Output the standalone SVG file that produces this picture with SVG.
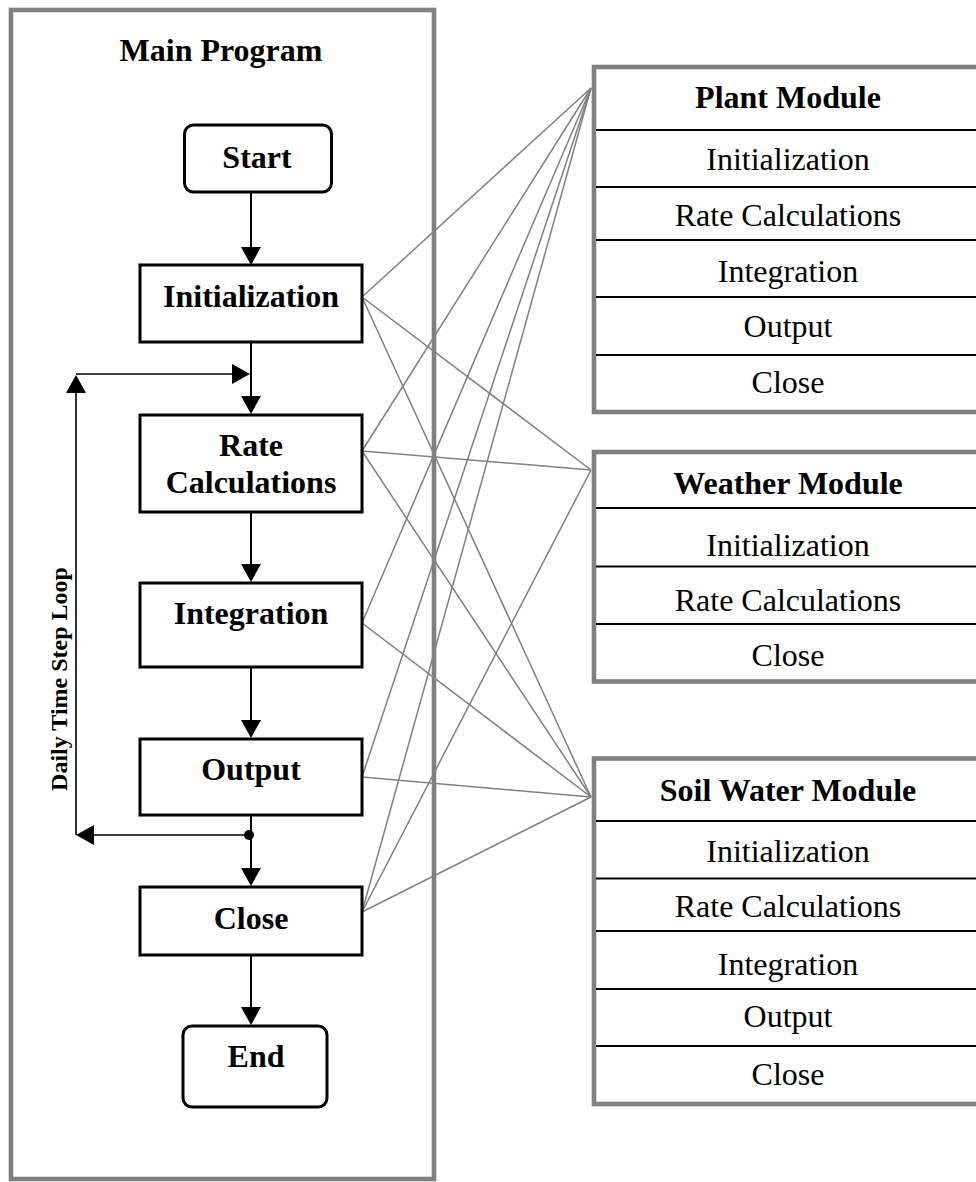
<svg xmlns="http://www.w3.org/2000/svg" width="976" height="1182" viewBox="0 0 976 1182">
<style>
.frame{fill:#fff;stroke:#808080;stroke-width:4.6}
.box{fill:#fff;stroke:#000;stroke-width:3}
.b{font-family:"Liberation Serif","Times New Roman",serif;font-weight:bold;font-size:32px;fill:#000;text-anchor:middle}
.r{font-family:"Liberation Serif","Times New Roman",serif;font-size:32px;fill:#000;text-anchor:middle}
.flow{stroke:#000;stroke-width:2;fill:none}
.loop{stroke:#000;stroke-width:1.6;fill:none}
.conn{stroke:#808080;stroke-width:1.5;fill:none}
.div{stroke:#000;stroke-width:1.8}
</style>
<defs>
<marker id="ah" markerWidth="18" markerHeight="20" refX="12" refY="10" orient="auto" markerUnits="userSpaceOnUse">
<path d="M0,0 L18,10 L0,20 z" fill="#000"/>
</marker>
</defs>
<rect width="976" height="1182" fill="#fff"/>

<g id="main-program">
<rect class="frame" x="11" y="10" width="423" height="1169"/>
<text class="b" x="221" y="61">Main Program</text>
</g>

<g id="plant-module">
<rect class="frame" x="594" y="67" width="420" height="345"/>
<line class="div" x1="596" y1="130" x2="976" y2="130"/>
<line class="div" x1="596" y1="187" x2="976" y2="187"/>
<line class="div" x1="596" y1="240" x2="976" y2="240"/>
<line class="div" x1="596" y1="297" x2="976" y2="297"/>
<line class="div" x1="596" y1="355" x2="976" y2="355"/>
<text class="b" x="788" y="108">Plant Module</text>
<text class="r" x="788" y="170">Initialization</text>
<text class="r" x="788" y="226">Rate Calculations</text>
<text class="r" x="788" y="282">Integration</text>
<text class="r" x="788" y="337">Output</text>
<text class="r" x="788" y="393">Close</text>
</g>

<g id="weather-module">
<rect class="frame" x="594" y="452" width="420" height="229.5"/>
<line class="div" x1="596" y1="508" x2="976" y2="508"/>
<line class="div" x1="596" y1="566.5" x2="976" y2="566.5"/>
<line class="div" x1="596" y1="624" x2="976" y2="624"/>
<text class="b" x="788" y="494">Weather Module</text>
<text class="r" x="788" y="556">Initialization</text>
<text class="r" x="788" y="611">Rate Calculations</text>
<text class="r" x="788" y="666">Close</text>
</g>

<g id="soil-water-module">
<rect class="frame" x="594" y="758.5" width="420" height="345.5"/>
<line class="div" x1="596" y1="821" x2="976" y2="821"/>
<line class="div" x1="596" y1="878.5" x2="976" y2="878.5"/>
<line class="div" x1="596" y1="931" x2="976" y2="931"/>
<line class="div" x1="596" y1="989" x2="976" y2="989"/>
<line class="div" x1="596" y1="1046" x2="976" y2="1046"/>
<text class="b" x="788" y="801">Soil Water Module</text>
<text class="r" x="788" y="862">Initialization</text>
<text class="r" x="788" y="917">Rate Calculations</text>
<text class="r" x="788" y="975">Integration</text>
<text class="r" x="788" y="1027">Output</text>
<text class="r" x="788" y="1085">Close</text>
</g>

<g id="connectors">
<line class="conn" x1="362" y1="297" x2="591" y2="88"/>
<line class="conn" x1="362" y1="297" x2="591" y2="470"/>
<line class="conn" x1="362" y1="297" x2="591" y2="797"/>
<line class="conn" x1="362" y1="451" x2="591" y2="88"/>
<line class="conn" x1="362" y1="451" x2="591" y2="470"/>
<line class="conn" x1="362" y1="451" x2="591" y2="797"/>
<line class="conn" x1="362" y1="623" x2="591" y2="88"/>
<line class="conn" x1="362" y1="623" x2="591" y2="797"/>
<line class="conn" x1="362" y1="777" x2="591" y2="88"/>
<line class="conn" x1="362" y1="777" x2="591" y2="797"/>
<line class="conn" x1="362" y1="912" x2="591" y2="88"/>
<line class="conn" x1="362" y1="912" x2="591" y2="470"/>
<line class="conn" x1="362" y1="912" x2="591" y2="797"/>

<line class="flow" x1="251" y1="193" x2="251" y2="259" marker-end="url(#ah)"/>
<line class="flow" x1="251" y1="342" x2="251" y2="408" marker-end="url(#ah)"/>
<line class="flow" x1="251" y1="512" x2="251" y2="576" marker-end="url(#ah)"/>
<line class="flow" x1="251" y1="667" x2="251" y2="732" marker-end="url(#ah)"/>
<line class="flow" x1="251" y1="815" x2="251" y2="880" marker-end="url(#ah)"/>
<line class="flow" x1="251" y1="955" x2="251" y2="1019" marker-end="url(#ah)"/>

<line class="loop" x1="250" y1="835" x2="82" y2="835" marker-end="url(#ah)"/>
<line class="loop" x1="76" y1="835" x2="76" y2="381" marker-end="url(#ah)"/>
<line class="loop" x1="76" y1="374" x2="244" y2="374" marker-end="url(#ah)"/>
<circle cx="249" cy="835" r="5" fill="#000"/>
<text class="b" style="font-size:24px" transform="translate(67,679) rotate(-90)">Daily Time Step Loop</text>
</g>

<g id="start">
<rect class="box" x="184.5" y="125" width="147" height="67" rx="9"/>
<text class="b" x="257" y="168">Start</text>
</g>
<g id="initialization">
<rect class="box" x="140" y="265" width="222" height="77"/>
<text class="b" x="251" y="307">Initialization</text>
</g>
<g id="rate-calculations">
<rect class="box" x="140" y="415" width="222" height="97"/>
<text class="b" x="251" y="456">Rate</text>
<text class="b" x="251" y="493">Calculations</text>
</g>
<g id="integration">
<rect class="box" x="140" y="583" width="222" height="84"/>
<text class="b" x="251" y="624">Integration</text>
</g>
<g id="output">
<rect class="box" x="140" y="739" width="222" height="76"/>
<text class="b" x="251" y="780">Output</text>
</g>
<g id="close">
<rect class="box" x="140" y="887" width="222" height="68"/>
<text class="b" x="251" y="929">Close</text>
</g>
<g id="end">
<rect class="box" x="183" y="1026" width="144" height="81" rx="9"/>
<text class="b" x="256" y="1067">End</text>
</g>
</svg>
